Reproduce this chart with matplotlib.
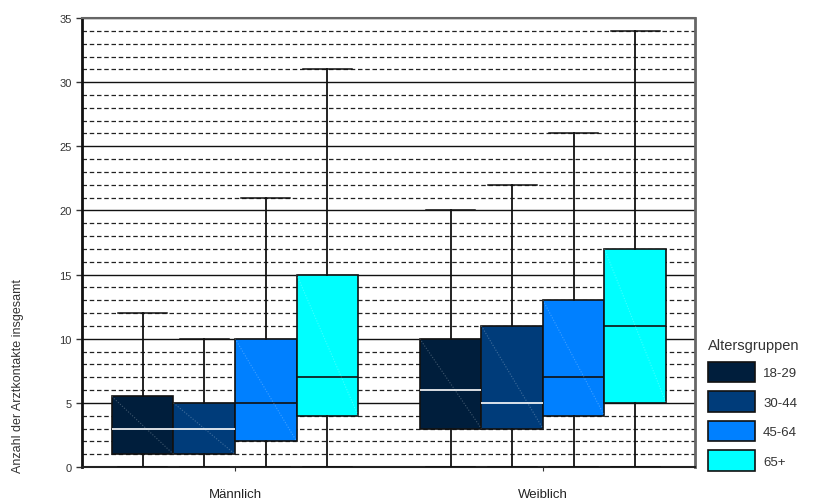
import matplotlib
matplotlib.use("Agg")
import matplotlib.pyplot as plt
import matplotlib.patches as mpatches
from matplotlib.ticker import MultipleLocator

plt.rcParams["font.family"] = ["Liberation Sans", "DejaVu Sans"]

# Box statistics per sex and age group
groups = ["Männlich", "Weiblich"]
age_groups = ["18-29", "30-44", "45-64", "65+"]
colors = ["#001E3C", "#003C7A", "#0080FF", "#00FFFF"]
median_colors = ["white", "white", "#111111", "#111111"]

whis_lo = [[0, 0, 0, 0], [0, 0, 0, 0]]
q1 = [[1, 1, 2, 4], [3, 3, 4, 5]]
median = [[3, 3, 5, 7], [6, 5, 7, 11]]
q3 = [[5.5, 5, 10, 15], [10, 11, 13, 17]]
whis_hi = [[12, 10, 21, 31], [20, 22, 26, 34]]

box_w = 0.2

fig = plt.figure(figsize=(8.27, 5.02), dpi=100)
ax = fig.add_axes([0.0992, 0.0677, 0.7412, 0.8944])

for g in range(len(groups)):
    for a in range(len(age_groups)):
        pos = g + 1 + (a - 1.5) * box_w
        st = dict(med=median[g][a], q1=q1[g][a], q3=q3[g][a],
                  whislo=whis_lo[g][a], whishi=whis_hi[g][a], fliers=[])
        ax.bxp([st], positions=[pos], widths=box_w, patch_artist=True,
               showfliers=False, capwidths=box_w * 0.8,
               boxprops=dict(facecolor=colors[a], edgecolor="#111111", linewidth=1.2),
               medianprops=dict(color=median_colors[a], linewidth=1.2),
               whiskerprops=dict(color="#111111", linewidth=1.3),
               capprops=dict(color="#111111", linewidth=1.1),
               manage_ticks=False, zorder=3)
        # faint dotted diagonal across each box
        x0, x1 = pos - box_w / 2, pos + box_w / 2
        ax.plot([x0, x1], [q3[g][a], q1[g][a]], color="white", alpha=0.25,
                linestyle=(0, (1, 1.5)), linewidth=0.8, zorder=4)

ax.set_xlim(0.503, 2.494)
ax.set_ylim(0, 35)
ax.set_xticks([1, 2])
ax.set_xticklabels(groups, fontsize=9.5, color="#222222")
ax.yaxis.set_major_locator(MultipleLocator(5))
ax.yaxis.set_minor_locator(MultipleLocator(1))
ax.tick_params(axis="y", which="major", labelsize=8, labelcolor="#333333",
               length=4, width=1, color="#333333")
ax.tick_params(axis="y", which="minor", length=0)
ax.tick_params(axis="x", length=3, pad=12, color="#333333")

ax.grid(True, which="major", axis="y", color="#111111", linewidth=1.0)
ax.grid(True, which="minor", axis="y", color="#222222", linewidth=0.9,
        linestyle=(0, (3.6, 2.2)))
ax.set_axisbelow(True)

ax.spines["left"].set_linewidth(2.0)
ax.spines["left"].set_color("#111111")
ax.spines["top"].set_color("#666666")
ax.spines["top"].set_linewidth(1.5)
ax.spines["right"].set_color("#666666")
ax.spines["right"].set_linewidth(2.0)
ax.spines["bottom"].set_color("#222222")
ax.spines["bottom"].set_linewidth(1.5)

fig.text(0.022, 0.251, "Anzahl der Arztkontakte insgesamt", rotation=90,
         ha="center", va="center", fontsize=9, color="#333333",
         family=["Liberation Sans Narrow", "Liberation Sans", "DejaVu Sans"])

handles = [mpatches.Patch(facecolor=c, edgecolor="#111111", linewidth=1.2, label=l)
           for c, l in zip(colors, age_groups)]
leg = fig.legend(handles=handles, title="Altersgruppen", loc="upper left",
                 bbox_to_anchor=(0.843, 0.345), frameon=False, fontsize=9.5,
                 title_fontsize=10.5, handlelength=3.6, handleheight=2.0,
                 labelspacing=0.7, handletextpad=0.6, alignment="left",
                 borderpad=0.3)
for t in leg.get_texts():
    t.set_color("#333333")
leg.get_title().set_color("#333333")

fig.savefig("out.png", dpi=100)
